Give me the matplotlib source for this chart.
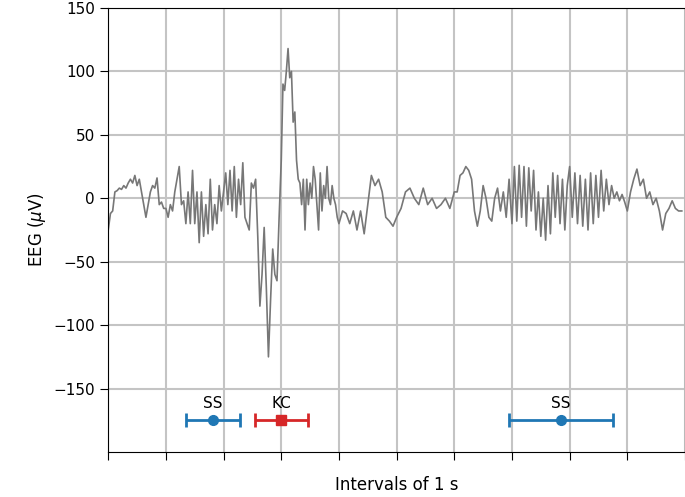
import numpy as np
import matplotlib.pyplot as plt

# EEG values read per 1 s interval
s0 = [-25, -12, -10, 5, 6, 8, 7, 10, 8, 12, 15, 12, 18, 10, 15, 5, -5, -15, -5, 5, 10, 8, 16, -5, -3, -8]
s1 = [-8, -15, -5, -10, 5, 15, 25, -5, -2, -20, 5, -20, 22, -20, 5, -35, 5, -30, -5, -28, 15, -25, -5, -20, 10, -10]
s2 = [5, 20, -5, 22, -10, 25, -15, 15, -5, 28, -15, -20, -25, 12, 8, 15, -30, -85, -60, -23, -70, -125, -80, -40, -60, -65, -15]
s3 = [30, 90, 85, 100, 118, 95, 100, 60, 68, 30, 15, 12, -5, 15, -25, 15, -5, 12, 0, 25, 15, -5, -25, 20, -10, 10, 0, 25, 0, -5, 10, 0, -5, -15]
s4 = [-20, -10, -12, -20, -10, -25, -10, -28, -5, 18, 10, 15, 5, -15, -18, -22]
s5 = [-15, -8, 5, 8, 0, -5, 8, -5, 0, -8, -5, 0, -8]
s6 = [5, 5, 18, 20, 25, 22, 15, -10, -22, -10, 10, 0, -15, -18, 0, 8, -10, 5, -15, 15]
s7 = [-20, 25, -18, 26, -15, 25, -22, 24, -10, 22, -25, 5, -30, 0, -33, 10, -28, 20, -15, 18, -20, 15, -25, 10]
s8 = [25, -15, 20, -20, 18, -22, 15, -25, 20, -20, 18, -15, 22, -10, 15, -5, 10, 0, 5, -2, 3, -3]
s9 = [-10, 5, 15, 23, 10, 15, 0, 5, -5, 0, -10, -25, -12, -8, -2, -8, -10, -10]
segments = [s0, s1, s2, s3, s4, s5, s6, s7, s8, s9]

# detected events: label, centre, half width
ev_labels = ['SS', 'KC', 'SS']
ev_centre = [1.82, 3.0, 7.85]
ev_half = [0.47, 0.46, 0.91]
ev_colors = ['#1f77b4', '#d62728', '#1f77b4']
ev_markers = ['o', 's', 'o']

t = np.concatenate([np.linspace(k, k + 1, len(s), endpoint=False) for k, s in enumerate(segments)])
eeg = np.concatenate(segments)

fig = plt.figure(figsize=(6.85, 4.97), dpi=100)
ax = fig.add_axes([0.158, 0.0905, 0.842, 0.8935])
ax.plot(t, eeg, color='#777777', linewidth=1.2)
for lab, c, h, col, m in zip(ev_labels, ev_centre, ev_half, ev_colors, ev_markers):
    ax.errorbar(c, -175, xerr=h, color=col, marker=m, markersize=7,
                capsize=5, linewidth=2, capthick=2)
    ax.text(c, -162, lab, ha='center', va='center', fontsize=11)

ax.set_xlim(0, 10)
ax.set_ylim(-200, 150)
ax.set_xticks(np.arange(0, 11))
ax.set_xticklabels([])
ax.set_yticks(np.arange(-150, 151, 50))
ax.tick_params(labelsize=11, length=6)
ax.grid(True, color='#c4c4c4', linewidth=1.5)
ax.set_axisbelow(True)
ax.set_xlabel('Intervals of 1 s', fontsize=12, labelpad=8)
ax.set_ylabel(r'EEG ($\mu$V)', fontsize=12)
fig.savefig('out.png', dpi=100)
